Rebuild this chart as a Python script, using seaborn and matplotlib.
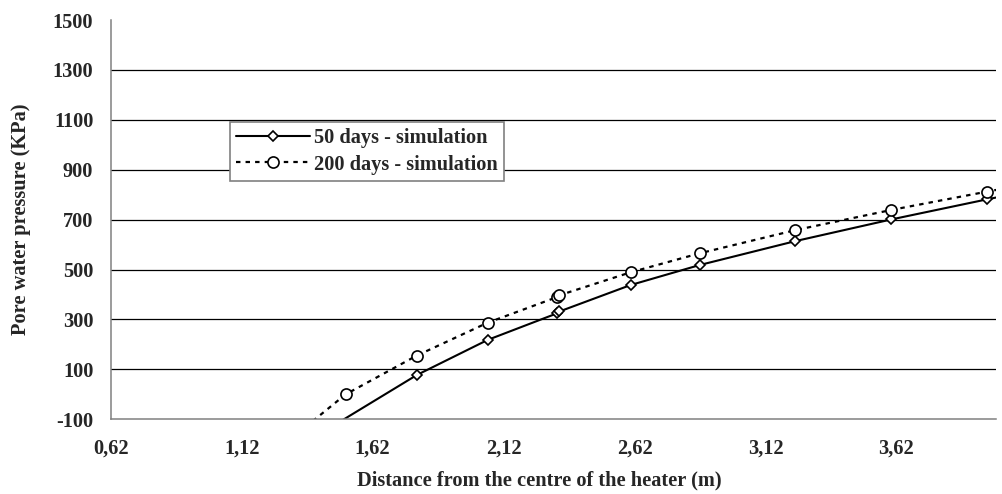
import matplotlib
matplotlib.use("Agg")
import matplotlib.pyplot as plt
import seaborn as sns
import pandas as pd

# values (points outside the axes are clipped, as in the original)
days50_x = [1.25, 1.788, 2.059, 2.325, 2.333, 2.605, 2.868, 3.234, 3.601, 3.964, 4.33]
days50_y = [-266, 77, 218, 325, 332, 438, 518, 614, 701, 781, 858]
days200_x = [1.25, 1.517, 1.788, 2.059, 2.325, 2.333, 2.605, 2.868, 3.234, 3.601, 3.964, 4.33]
days200_y = [-228, 0, 155, 287, 390, 397, 489, 565, 658, 739, 812, 882]

series_labels = ["50 days - simulation", "200 days - simulation"]
x_ticks = [0.62, 1.12, 1.62, 2.12, 2.62, 3.12, 3.62]
y_ticks = [-100, 100, 300, 500, 700, 900, 1100, 1300, 1500]

sns.set_style("white")
plt.rcParams["font.family"] = ["Liberation Serif", "DejaVu Serif"]
plt.rcParams["font.weight"] = "bold"
fs = 14.7

df50 = pd.DataFrame({"x": days50_x, "y": days50_y})
df200 = pd.DataFrame({"x": days200_x, "y": days200_y})

fig = plt.figure(figsize=(10.02, 4.94), dpi=100)
ax = fig.add_axes([110.7 / 1002, 1 - 419.3 / 494, (996 - 110.7) / 1002, (419.3 - 20) / 494])

sns.lineplot(df50, x="x", y="y", estimator=None, sort=False, ax=ax,
             color="black", lw=1.5, marker="D", markersize=5.3,
             markerfacecolor="white", markeredgecolor="black", markeredgewidth=1.2,
             label=series_labels[0])
sns.lineplot(df200, x="x", y="y", estimator=None, sort=False, ax=ax,
             color="black", lw=1.6, dashes=(2, 2.3), marker="o", markersize=8,
             markerfacecolor="white", markeredgecolor="black", markeredgewidth=1.2,
             label=series_labels[1])

ax.set_xlim(0.62, 4.0)
ax.set_ylim(-100, 1500)
ax.set_xticks(x_ticks)
ax.set_xticklabels([f"{v:.2f}".replace(".", ",") for v in x_ticks])
ax.set_yticks(y_ticks)
ax.set_yticklabels([str(v) for v in y_ticks])
ax.tick_params(axis="both", direction="out", length=5, width=1, color="#808080",
               labelsize=fs)
ax.tick_params(axis="x", pad=8.9)
ax.tick_params(axis="y", pad=7.5)
for lab in ax.get_xticklabels() + ax.get_yticklabels():
    lab.set_fontweight("bold")

ax.yaxis.grid(True, color="black", lw=0.9)
ax.get_ygridlines()[0].set_visible(False)
ax.get_ygridlines()[-1].set_visible(False)
ax.xaxis.grid(False)
ax.set_axisbelow(True)

for side in ["top", "right"]:
    ax.spines[side].set_visible(False)
for side in ["left", "bottom"]:
    ax.spines[side].set_color("#808080")
    ax.spines[side].set_linewidth(1.1)

ax.set_xlabel("Distance from the centre of the heater (m)", fontsize=fs, fontweight="bold")
ax.set_ylabel("Pore water pressure (KPa)", fontsize=fs, fontweight="bold")
ax.xaxis.label.set_verticalalignment("center")
ax.yaxis.label.set_verticalalignment("center")
ax.xaxis.set_label_coords(0.4838, -0.1543)
ax.yaxis.set_label_coords(-0.1015, 0.5)

leg = ax.legend(loc="lower left", bbox_to_anchor=(0.1348, 0.5975), borderaxespad=0,
                frameon=True, fancybox=False, edgecolor="#808080", framealpha=1,
                prop={"weight": "bold", "size": fs}, handlelength=3.6,
                handletextpad=0.2, borderpad=0.3, labelspacing=0.3)
leg.get_frame().set_linewidth(1.2)

fig.savefig("out.png", dpi=100)
